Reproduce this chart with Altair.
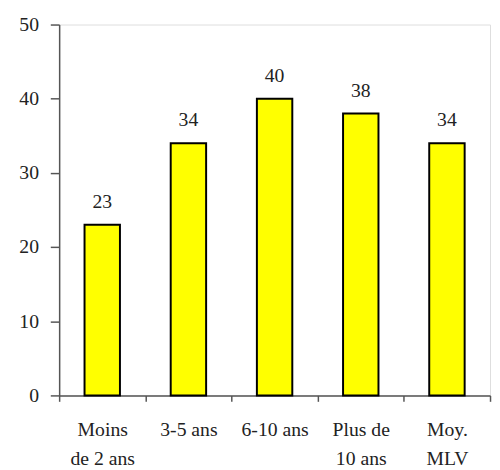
import altair as alt
import pandas as pd

categories = ["Moins\nde 2 ans", "3-5 ans", "6-10 ans", "Plus de\n10 ans", "Moy.\nMLV"]
values = [23, 34, 40, 38, 34]

df = pd.DataFrame({"cat": categories, "val": values})

FONT = "Liberation Serif"
FS = 20

x = alt.X(
    "cat:N",
    sort=categories,
    title=None,
    scale=alt.Scale(paddingInner=0, paddingOuter=0),
    axis=alt.Axis(
        labelAngle=0,
        labelExpr="datum.value ? split(datum.value, '\\n') : ''",
        labelLineHeight=29,
        labelPadding=19,
        labelBaseline="top",
        tickBand="extent",
        tickSize=6,
    ),
)

y = alt.Y(
    "val:Q",
    title=None,
    scale=alt.Scale(domain=[0, 50], nice=False),
    axis=alt.Axis(
        values=[0, 10, 20, 30, 40, 50],
        grid=False,
        tickSize=9,
        labelPadding=12,
    ),
)

bars = alt.Chart(df).mark_bar(
    size=36, color="#FFFF00", stroke="#000000", strokeWidth=2
).encode(x=x, y=y)

text = alt.Chart(df).mark_text(
    dy=-17, baseline="alphabetic", fontSize=FS, font=FONT, color="#222222"
).encode(x=alt.X("cat:N", sort=categories), y="val:Q", text="val:Q")

chart = (
    alt.layer(bars, text)
    .properties(
        width=438,
        height=377,
        autosize=alt.AutoSizeParams(type="none"),
        padding={"left": 52, "top": 13, "right": 2, "bottom": 72},
    )
    .configure_view(stroke=None)
    .configure(font=FONT)
    .configure_axis(
        labelFont=FONT,
        labelFontSize=FS,
        labelColor="#222222",
        tickColor="#555555",
        domainColor="#555555",
        domainWidth=1.5,
        tickWidth=1.5,
    )
    .configure_text(font=FONT)
)

chart.save("out.html", embed_options={"renderer": "svg", "actions": False})
